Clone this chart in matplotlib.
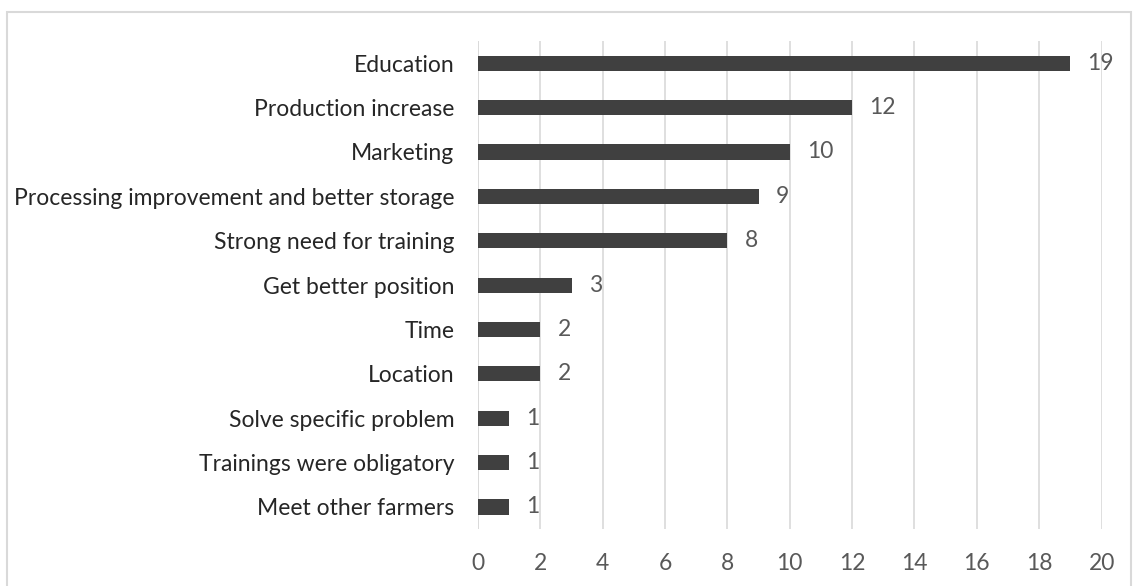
import matplotlib.pyplot as plt
from matplotlib.patches import Rectangle

plt.rcParams['font.family'] = ['Lato', 'DejaVu Sans']

reasons = ["Education", "Production increase", "Marketing",
           "Processing improvement and better storage", "Strong need for training",
           "Get better position", "Time", "Location", "Solve specific problem",
           "Trainings were obligatory", "Meet other farmers"]
counts = [19, 12, 10, 9, 8, 3, 2, 2, 1, 1, 1]
xticks = list(range(0, 21, 2))

fig = plt.figure(figsize=(11.38, 5.86), dpi=100)
ax = fig.add_axes([0.42, 0.097, 0.548, 0.833])

ypos = list(range(len(reasons)))[::-1]
ax.barh(ypos, counts, height=0.34, color="#404040", zorder=3)
for y, v in zip(ypos, counts):
    ax.text(v + 0.55, y, str(v), va="center", ha="left", fontsize=16.5, color="#595959")

ax.set_xlim(0, 20)
ax.set_ylim(-0.5, len(reasons) - 0.5)
ax.set_xticks(xticks)
ax.set_yticks(ypos)
ax.set_yticklabels(reasons)
ax.tick_params(axis="y", length=0, pad=17, labelsize=16.5, labelcolor="#262626")
ax.tick_params(axis="x", length=0, pad=17, labelsize=16.5, labelcolor="#595959")
ax.grid(axis="x", color="#d9d9d9", linewidth=1.2, zorder=0)
for s in ax.spines.values():
    s.set_visible(False)
ax.axvline(0, color="#d9d9d9", linewidth=1.2, zorder=2)

# light frame around the chart area
fig.patches.append(Rectangle((7 / 1138, -0.01), 1124 / 1138, 1 - 12 / 586 + 0.01,
                             transform=fig.transFigure, fill=False,
                             edgecolor="#d9d9d9", linewidth=1.5))

fig.savefig("out.png", dpi=100)
